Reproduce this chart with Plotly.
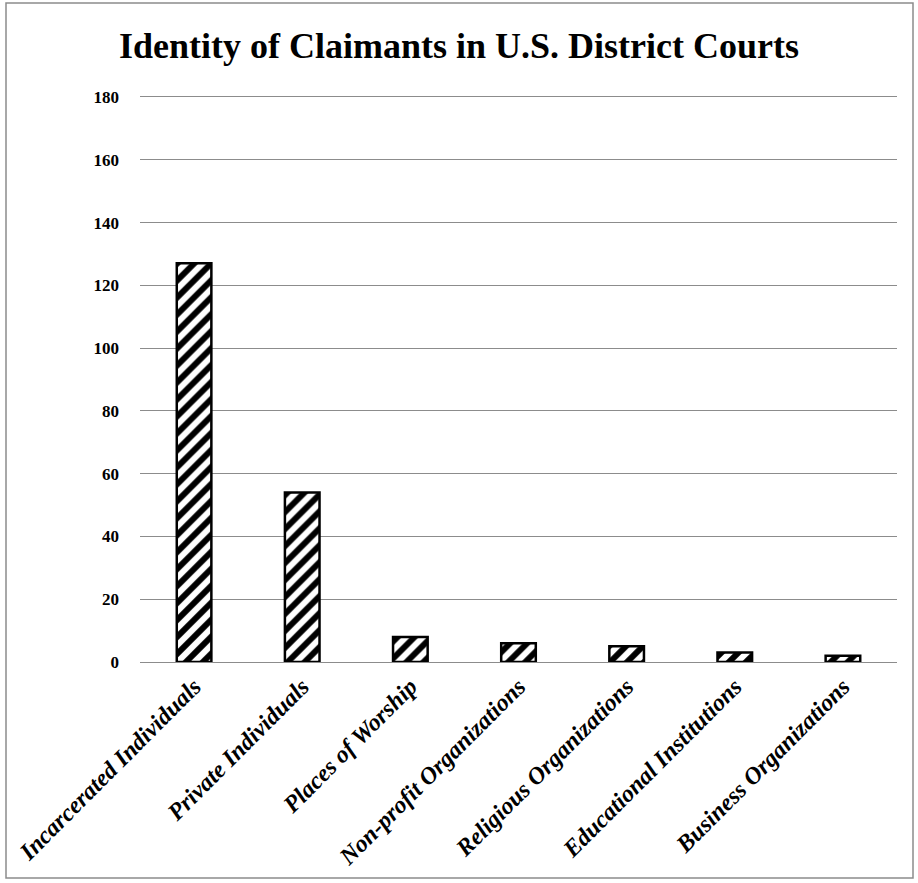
import plotly.graph_objects as go

categories = ["Incarcerated Individuals", "Private Individuals", "Places of Worship",
              "Non-profit Organizations", "Religious Organizations",
              "Educational Institutions", "Business Organizations"]
values = [127, 54, 8, 6, 5, 3, 2]
y_ticks = [0, 20, 40, 60, 80, 100, 120, 140, 160, 180]

fig = go.Figure(go.Bar(
    x=categories, y=values, width=0.32,
    marker=dict(color="white", line=dict(color="black", width=2.5),
                pattern=dict(shape="/", fgcolor="black", bgcolor="white", fgopacity=1,
                             size=12, solidity=0.5)),
))

fig.update_layout(
    width=918, height=883,
    margin=dict(l=140, r=21, t=97, b=221),
    paper_bgcolor="white", plot_bgcolor="white",
    title=dict(text="Identity of Claimants in U.S. District Courts",
               x=0.5, xanchor="center", y=0.949, yanchor="middle",
               font=dict(family="Liberation Serif", size=36, color="black", weight="bold")),
    font=dict(family="Liberation Serif", color="black"),
    showlegend=False,
)
fig.update_yaxes(range=[0, 180], tickvals=y_ticks, showgrid=True, gridcolor="#8c8c8c", gridwidth=1,
                 tickfont=dict(family="Liberation Serif", size=17, color="black", weight="bold"),
                 ticklabelstandoff=20, zeroline=False, showline=False)
fig.update_xaxes(tickangle=-45, showline=True, mirror=True, linecolor="#8c8c8c", linewidth=1,
                 tickfont=dict(family="Liberation Serif", size=24, color="black",
                               weight="bold", style="italic"))
fig.add_shape(type="rect", xref="paper", yref="paper",
              x0=(6 - 140) / 757, x1=(913 - 140) / 757,
              y0=(662 - 878) / 565, y1=(662 - 3) / 565,
              line=dict(color="#8c8c8c", width=1.5), fillcolor="rgba(0,0,0,0)", layer="below")
fig.write_html("out.html", config={"displayModeBar": False},
               post_script="document.body.style.margin='0';document.body.style.padding='0';")
